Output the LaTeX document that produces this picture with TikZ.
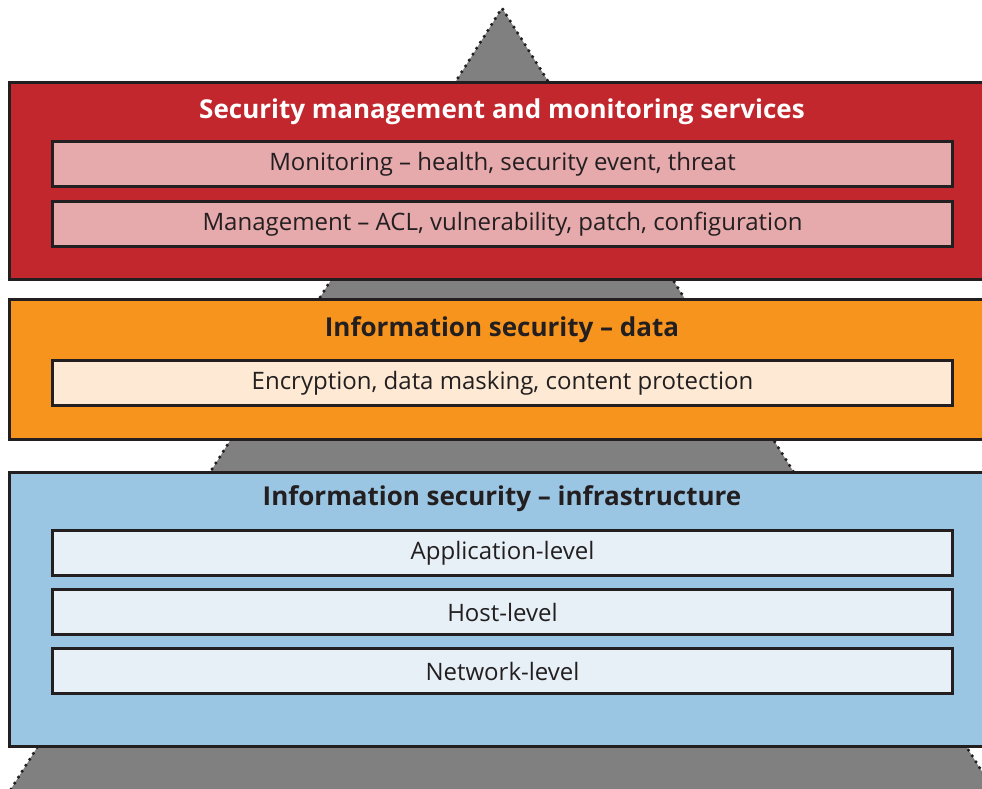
\documentclass[tikz,border=0pt]{standalone}
\usepackage{fontspec}
\setmainfont{Open Sans}
\usetikzlibrary{positioning}
\definecolor{secred}{HTML}{C1272D}
\definecolor{secpink}{HTML}{E6A9AC}
\definecolor{secorange}{HTML}{F7941D}
\definecolor{seccream}{HTML}{FDE9D4}
\definecolor{secblue}{HTML}{9AC6E4}
\definecolor{secpale}{HTML}{E6F0F6}
\definecolor{secgray}{HTML}{808080}
\definecolor{boxline}{HTML}{231F20}
\tikzset{
  layer/.style={draw=boxline, line width=3pt, minimum width=990pt, anchor=north west, inner sep=0pt},
  item/.style={draw=boxline, line width=3pt, minimum width=900pt, minimum height=45pt,
    anchor=north west, inner sep=0pt},
  itemtext/.style={font=\fontsize{24}{28}\selectfont, text=boxline},
  headline/.style={font=\fontsize{26}{30}\selectfont\bfseries, inner sep=0pt}
}

\begin{document}
\begin{tikzpicture}[x=1pt,y=-1pt]
        \useasboundingbox (0,0) rectangle (982,789);
        \clip (0,0) rectangle (982,789);

        % Pyramid behind the layers
        \coordinate (top) at (502,8);
        \coordinate (baseL) at (11,789);
        \coordinate (baseR) at (993,789);
        \fill[secgray] (top)--(baseL)--(baseR)--cycle;
        \draw[boxline, line width=3.5pt, line cap=round, dash pattern=on 0pt off 7pt] (baseL)--(top)--(baseR);

        %-----------------------------------------------
        \node[layer, fill=secred, minimum height=197pt] (R) at (8,81) {};
        \node[headline, text=white] (Rt) at (502,112) {Security management and monitoring services};
        \node[item, fill=secpink] (R1) at (51,140) {};
        \node[itemtext] at (R1) {Monitoring – health, security event, threat};
        \node[item, fill=secpink] (R2) at (51,200) {};
        \node[itemtext] at (R2) {Management – ACL, vulnerability, patch, configuration};
        %-----------------------------------------------
        \node[layer, fill=secorange, minimum height=140pt] (O) at (8,298) {};
        \node[headline, text=boxline] (Ot) at (502,330) {Information security – data};
        \node[item, fill=seccream] (O1) at (51,359) {};
        \node[itemtext] at (O1) {Encryption, data masking, content protection};
        %-----------------------------------------------
        \node[layer, fill=secblue, minimum height=274pt] (B) at (8,471) {};
        \node[headline, text=boxline] (Bt) at (502,499) {Information security – infrastructure};
        \foreach \lvl [count=\j from 0] in {Application-level,Host-level,Network-level}
        {
            \node[item, fill=secpale] (B\j) at (51,529+59*\j) {};
            \node[itemtext] at (B\j) {\lvl};
        }
\end{tikzpicture}
\end{document}
